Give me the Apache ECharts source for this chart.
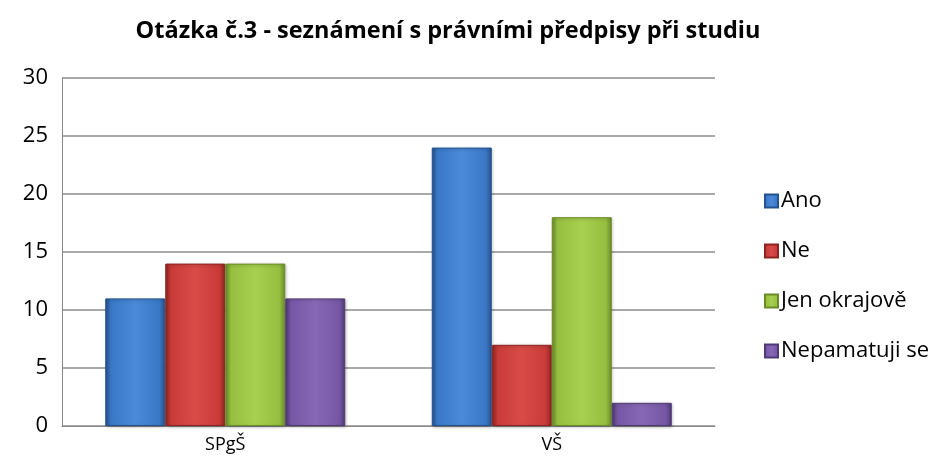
<!DOCTYPE html>
<html>
<head>
<meta charset="utf-8">
<script src="https://cdn.jsdelivr.net/npm/echarts@6/dist/echarts.min.js"></script>
<style>
  html, body { margin: 0; padding: 0; background: #fff; }
  #chart { width: 941px; height: 470px; }
</style>
</head>
<body>
<div id="chart"></div>
<script>
const categories = ["SPgŠ", "VŠ"];
const seriesNames = ["Ano", "Ne", "Jen okrajově", "Nepamatuji se"];
const ano = [11, 24];
const ne = [14, 7];
const okrajove = [14, 18];
const nepamatuji = [11, 2];
const yTicks = [0, 5, 10, 15, 20, 25, 30];

// base, light, dark per series
const palette = [
  ["#3a78c6", "#4a8ad8", "#24528f"],
  ["#c83b38", "#d84b47", "#8e2421"],
  ["#96bf40", "#a7cf50", "#6a8c28"],
  ["#7657a5", "#8768b6", "#4f3a74"],
];

function barStyle(c) {
  return {
    color: new echarts.graphic.LinearGradient(0, 0, 1, 0, [
      { offset: 0, color: c[2] },
      { offset: 0.1, color: c[0] },
      { offset: 0.5, color: c[1] },
      { offset: 0.9, color: c[0] },
      { offset: 1, color: c[2] },
    ]),
    borderColor: c[2],
    borderWidth: 1,
    shadowColor: "rgba(0,0,0,0.25)",
    shadowBlur: 3,
    shadowOffsetX: 1,
    shadowOffsetY: 1,
  };
}

const values = [ano, ne, okrajove, nepamatuji];
const series = values.map((data, i) => ({
  name: seriesNames[i],
  type: "bar",
  data: data,
  barGap: "0%",
  barCategoryGap: "26.5%",
  itemStyle: barStyle(palette[i]),
}));

const chart = echarts.init(document.getElementById("chart"));
chart.setOption({
  animation: false,
  title: {
    text: "Otázka č.3 - seznámení s právními předpisy při studiu",
    left: 443,
    textAlign: "center",
    top: 14,
    textStyle: {
      fontFamily: "Open Sans",
      fontSize: 23.5,
      fontWeight: "bold",
      color: "#000",
    },
  },
  grid: {
    left: 62,
    right: 226,
    top: 78,
    bottom: 44,
  },
  legend: {
    orient: "vertical",
    left: 759,
    top: 185,
    itemGap: 28,
    itemWidth: 13,
    itemHeight: 13,
    icon: "rect",
    data: seriesNames,
    textStyle: {
      fontFamily: "Open Sans",
      fontSize: 22,
      color: "#000",
      padding: [0, 0, 0, -2],
    },
  },
  xAxis: {
    type: "category",
    data: categories,
    axisLine: { lineStyle: { color: "#888", width: 1 } },
    axisTick: { show: false },
    axisLabel: {
      fontFamily: "Open Sans",
      fontSize: 18,
      color: "#000",
      margin: 10,
    },
  },
  yAxis: {
    type: "value",
    min: yTicks[0],
    max: yTicks[yTicks.length - 1],
    interval: 5,
    axisLine: { show: true, lineStyle: { color: "#888", width: 1 } },
    axisTick: { show: false },
    splitLine: { lineStyle: { color: "#8c8c8c", width: 1.5 } },
    axisLabel: {
      fontFamily: "Open Sans",
      fontSize: 22,
      color: "#000",
      margin: 14,
    },
  },
  series: series,
});
</script>
</body>
</html>
